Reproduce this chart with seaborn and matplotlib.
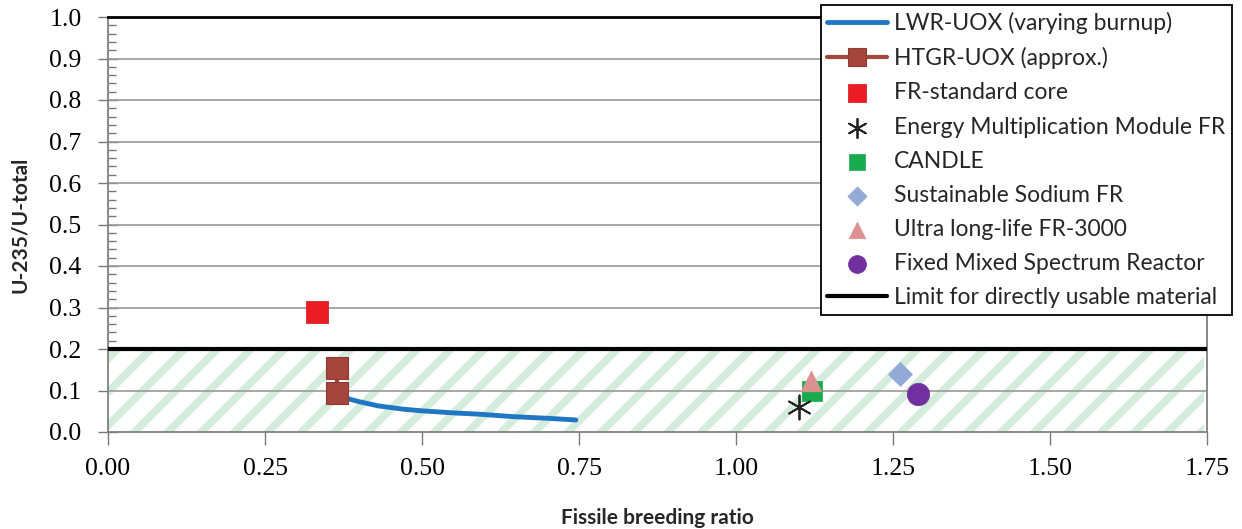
import matplotlib
matplotlib.use("Agg")
import matplotlib.pyplot as plt
import seaborn as sns
import pandas as pd
import numpy as np
from matplotlib.ticker import MultipleLocator

# ---- data ----
lwr_x = [0.37, 0.40, 0.43, 0.47, 0.50, 0.55, 0.59, 0.645, 0.70, 0.745]
lwr_y = [0.085, 0.073, 0.063, 0.055, 0.051, 0.046, 0.043, 0.037, 0.033, 0.029]
htgr_x = [0.365, 0.365]
htgr_y = [0.154, 0.095]
point_names = ["FR-standard core", "Energy Multiplication Module FR", "CANDLE",
               "Sustainable Sodium FR", "Ultra long-life FR-3000", "Fixed Mixed Spectrum Reactor"]
point_x = [0.333, 1.10, 1.121, 1.261, 1.12, 1.29]
point_y = [0.289, 0.060, 0.100, 0.140, 0.122, 0.092]
limit_value = 0.2
x_ticks = [0.00, 0.25, 0.50, 0.75, 1.00, 1.25, 1.50, 1.75]
y_ticks = [0.0, 0.1, 0.2, 0.3, 0.4, 0.5, 0.6, 0.7, 0.8, 0.9, 1.0]

sns.set_theme(style="white")
plt.rcParams["hatch.linewidth"] = 5.5
plt.rcParams["hatch.color"] = "#d3ecdc"

fig = plt.figure(figsize=(12.42, 5.29), dpi=100)
ax = fig.add_axes([108/1242, 1-432/529, (1207-108)/1242, (432-17)/529])

# hatched region
ax.fill_between([0, 1.745], 0, limit_value, facecolor="white", edgecolor="#d3ecdc",
                hatch="/", linewidth=0, zorder=1)

# grid lines
for yv in y_ticks[1:-1]:
    ax.axhline(yv, color="#9a9a9a", lw=1.2, zorder=1.5)

lwr_df = pd.DataFrame({"x": lwr_x, "y": lwr_y})
sns.lineplot(data=lwr_df, x="x", y="y", ax=ax, color="#1f77c4", lw=3.5,
             label="LWR-UOX (varying burnup)", sort=False, estimator=None, zorder=4)
htgr_df = pd.DataFrame({"x": htgr_x, "y": htgr_y})
sns.lineplot(data=htgr_df, x="x", y="y", ax=ax, color="#a5453c", lw=3,
             marker="s", markersize=16.5, markeredgecolor="#8f3a33", markeredgewidth=0.8,
             label="HTGR-UOX (approx.)", sort=False, estimator=None, zorder=5)

styles = {
    "FR-standard core": dict(marker="s", color="#ec1c24", s=260, edgecolor="#d01018", linewidth=0.5),
    "Energy Multiplication Module FR": dict(marker=(6, 2, 0), color="#222222", s=300, linewidth=1.3),
    "CANDLE": dict(marker="s", color="#18ab4e", s=200, edgecolor="#18ab4e", linewidth=0.5),
    "Sustainable Sodium FR": dict(marker="D", color="#93a9d6", s=150, edgecolor="#93a9d6", linewidth=0.5),
    "Ultra long-life FR-3000": dict(marker="^", color="#dc9191", s=220, edgecolor="#dc9191", linewidth=0.5),
    "Fixed Mixed Spectrum Reactor": dict(marker="o", color="#7030a0", s=260, edgecolor="#7030a0", linewidth=0.5),
}
zorders = {"Ultra long-life FR-3000": 6, "CANDLE": 5}
for name, xv, yv in zip(point_names, point_x, point_y):
    st = styles[name]
    sns.scatterplot(x=[xv], y=[yv], ax=ax, label=name, zorder=zorders.get(name, 6), **st)

ax.axhline(limit_value, color="black", lw=3, zorder=3, label="Limit for directly usable material")

ax.set_xlim(0, 1.75)
ax.set_ylim(0, 1.0)
ax.set_xticks(x_ticks)
ax.set_yticks(y_ticks)
ax.set_xticklabels([f"{v:.2f}" for v in x_ticks])
ax.set_yticklabels([f"{v:.1f}" for v in y_ticks])
ax.xaxis.set_minor_locator(MultipleLocator(0.05))
ax.yaxis.set_minor_locator(MultipleLocator(0.02))

serif = ["Liberation Serif", "DejaVu Serif"]
for lab in ax.get_xticklabels() + ax.get_yticklabels():
    lab.set_fontfamily(serif)
    lab.set_fontsize(18.5)
    lab.set_color("black")

ax.tick_params(axis="x", which="major", direction="out", length=9, width=1, color="#777777", pad=10, bottom=True)
ax.tick_params(axis="x", which="minor", direction="in", length=5, width=1, color="#777777", bottom=True)
ax.tick_params(axis="y", which="major", direction="inout", length=14, width=1, color="#777777", pad=12, left=True)
ax.tick_params(axis="y", which="minor", direction="in", length=6, width=1, color="#777777", left=True)

for s in ["left", "bottom", "right"]:
    ax.spines[s].set_color("#808080")
    ax.spines[s].set_linewidth(1.3)
ax.spines["top"].set_color("black")
ax.spines["top"].set_linewidth(2)

ax.set_xlabel("Fissile breeding ratio", fontfamily=["Lato", "DejaVu Sans"], fontweight="bold",
              fontsize=15, labelpad=20)
ax.set_ylabel("U-235/U-total", fontfamily=["Lato", "DejaVu Sans"], fontweight="bold",
              fontsize=15, labelpad=14)

handles, labels = ax.get_legend_handles_labels()
order = ["LWR-UOX (varying burnup)", "HTGR-UOX (approx.)", "FR-standard core",
         "Energy Multiplication Module FR", "CANDLE", "Sustainable Sodium FR",
         "Ultra long-life FR-3000", "Fixed Mixed Spectrum Reactor",
         "Limit for directly usable material"]
hmap = dict(zip(labels, handles))
leg = ax.legend([hmap[l] for l in order], order, loc="upper right",
                bbox_to_anchor=(1232/1242, 1-5/529), bbox_transform=fig.transFigure,
                borderaxespad=0, frameon=True, fancybox=False, framealpha=1,
                edgecolor="black", prop={"family": ["Lato", "DejaVu Sans"], "size": 16.5},
                handlelength=2.6, handletextpad=0.3, labelspacing=0.575, borderpad=0.3,
                markerscale=0.8)
leg.get_frame().set_linewidth(1.3)
leg.set_zorder(10)

fig.savefig("out.png", dpi=100)
